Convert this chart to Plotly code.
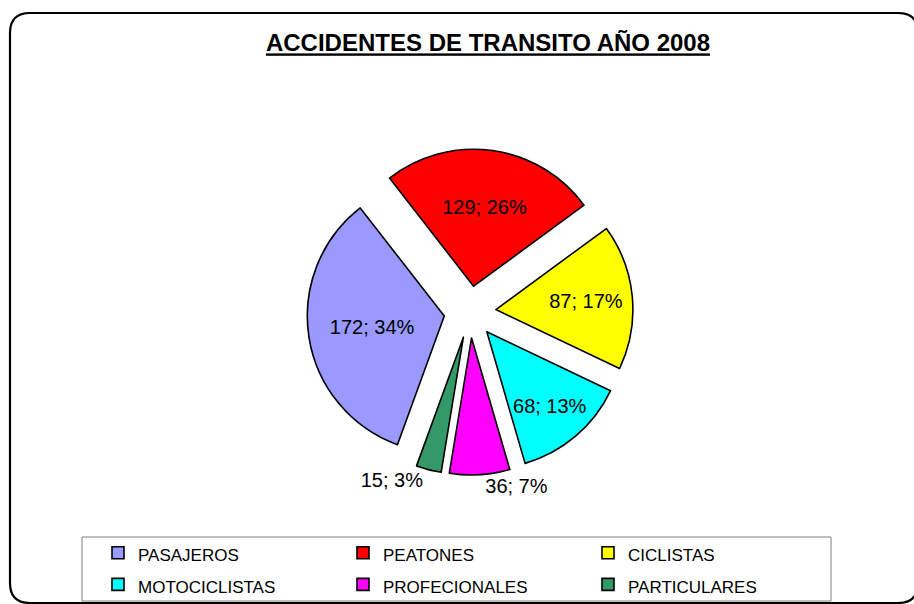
import plotly.graph_objects as go

categories = ["PASAJEROS", "PEATONES", "CICLISTAS", "MOTOCICLISTAS", "PROFECIONALES", "PARTICULARES"]
values = [172, 129, 87, 68, 36, 15]
pct_labels = ["34%", "26%", "17%", "13%", "7%", "3%"]
colors = ["#9999FF", "#FF0000", "#FFFF00", "#00FFFF", "#FF00FF", "#339966"]
title_text = "ACCIDENTES DE TRANSITO AÑO 2008"

W, H = 914, 604
FONT = "Arial, Liberation Sans, sans-serif"


def px(x):
    return x / W


def py(y):
    return 1 - y / H


fig = go.Figure()
fig.add_trace(go.Pie(
    labels=['<span style="font-size:17px">%s</span>' % c for c in categories],
    values=values,
    text=pct_labels,
    texttemplate="%{value}; %{text}",
    textposition=["inside", "inside", "inside", "inside", "outside", "outside"],
    insidetextorientation="horizontal",
    textfont=dict(family=FONT, size=20, color="black"),
    marker=dict(colors=colors, line=dict(color="black", width=1.6)),
    sort=False,
    direction="clockwise",
    rotation=200,
    pull=0.19,
    domain=dict(x=[px(470) - 0.3, px(470) + 0.3], y=[py(475), py(149)]),
    hoverinfo="skip",
))

# outer rounded frame
L, T, R, B, r = 10, 13, 918, 603, 20
path = (
    f"M {px(L + r)},{py(T)} L {px(R - r)},{py(T)} Q {px(R)},{py(T)} {px(R)},{py(T + r)} "
    f"L {px(R)},{py(B - r)} Q {px(R)},{py(B)} {px(R - r)},{py(B)} "
    f"L {px(L + r)},{py(B)} Q {px(L)},{py(B)} {px(L)},{py(B - r)} "
    f"L {px(L)},{py(T + r)} Q {px(L)},{py(T)} {px(L + r)},{py(T)} Z"
)
shapes = [
    dict(type="path", xref="paper", yref="paper", path=path,
         line=dict(color="black", width=2.2)),
    dict(type="rect", xref="paper", yref="paper",
         x0=px(82), x1=px(831), y0=py(601), y1=py(537),
         line=dict(color="#808080", width=1)),
]

fig.update_layout(
    width=W, height=H,
    margin=dict(l=0, r=0, t=0, b=0, autoexpand=False),
    paper_bgcolor="white",
    plot_bgcolor="white",
    font=dict(family=FONT, color="black"),
    title=dict(text="<b><u>%s</u></b>" % title_text, x=px(488), xanchor="center",
               y=py(43), yanchor="middle", font=dict(family=FONT, size=24, color="black")),
    shapes=shapes,
    legend=dict(orientation="h", x=px(98), xanchor="left", y=py(532), yanchor="top",
                font=dict(family=FONT, size=22, color="black"),
                entrywidth=200, entrywidthmode="pixels",
                bgcolor="rgba(0,0,0,0)", borderwidth=0, traceorder="normal"),
    showlegend=True,
)

fig.write_html("out.html", config={"displayModeBar": False},
               post_script="document.body.style.margin='0';")
